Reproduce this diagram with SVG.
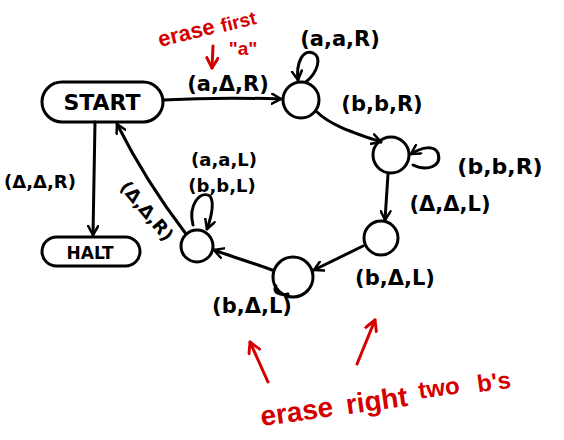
<svg xmlns="http://www.w3.org/2000/svg" width="564" height="440" viewBox="0 0 564 440">
<style>
.s{fill:none;stroke:#000;stroke-width:3;stroke-linecap:round;stroke-linejoin:round}
.t{font-family:"DejaVu Sans","Liberation Sans",sans-serif;font-weight:bold;fill:#000;text-anchor:middle}
.r{font-family:"Liberation Sans","DejaVu Sans",sans-serif;font-weight:bold;fill:#d40000;text-anchor:middle}
.rs{fill:none;stroke:#d40000;stroke-width:3;stroke-linecap:round;stroke-linejoin:round}
</style>
<defs>
<marker id="ah" viewBox="0 0 12 12" refX="10" refY="6" markerWidth="12" markerHeight="12" markerUnits="userSpaceOnUse" orient="auto">
<path d="M1,1 L10,6 L1,11" fill="none" stroke="#000" stroke-width="2.5" stroke-linecap="round" stroke-linejoin="round"/>
</marker>
<marker id="ahr" viewBox="0 0 12 12" refX="10" refY="6" markerWidth="14" markerHeight="14" markerUnits="userSpaceOnUse" orient="auto">
<path d="M1,1 L10,6 L1,11" fill="none" stroke="#d40000" stroke-width="2.5" stroke-linecap="round" stroke-linejoin="round"/>
</marker>
</defs>
<rect width="564" height="440" fill="#fff"/>
<g id="connectors">
<path class="s" d="M163,100 C200,98 250,98 281,99" marker-end="url(#ah)"/>
<path class="s" d="M306,82 C318,72 322,57 313,53 C302,49 296,64 298,80" marker-end="url(#ah)"/>
<path class="s" d="M317,112 C330,125 352,132 381,142" marker-end="url(#ah)"/>
<path class="s" d="M413,165 C428,172 442,166 438,153 C434,145 422,147 411,154" marker-end="url(#ah)"/>
<path class="s" d="M388,174 L385,220" marker-end="url(#ah)"/>
<path class="s" d="M363,246 L314,270" marker-end="url(#ah)"/>
<path class="s" d="M272,270 C250,262 236,258 214,250" marker-end="url(#ah)"/>
<path class="s" d="M193,225 C188,205 200,190 210,196 C214,202 212,215 207,229" marker-end="url(#ah)"/>
<path class="s" d="M186,234 C160,200 135,160 117,124" marker-end="url(#ah)"/>
<path class="s" d="M95,122 L93,235" marker-end="url(#ah)"/>
</g>
<g id="start">
<rect class="s" x="42" y="82" width="121" height="40" rx="20"/>
<text class="t" x="102" y="110" font-size="22">START</text>
</g>
<g id="halt">
<rect class="s" x="42" y="237" width="98" height="29" rx="14.5"/>
<text class="t" x="90" y="259" font-size="17">HALT</text>
</g>
<g id="q1"><circle class="s" cx="301" cy="100" r="18"/></g>
<g id="q2"><circle class="s" cx="391" cy="155" r="18"/></g>
<g id="q3"><circle class="s" cx="381" cy="238" r="17"/></g>
<g id="q4"><circle class="s" cx="293" cy="277" r="20"/><path class="s" d="M276,286 C272,292 280,296 288,294"/></g>
<g id="q5"><circle class="s" cx="197" cy="246" r="16"/></g>
<g id="labels">
<text class="t" x="228" y="91" font-size="21">(a,Δ,R)</text>
<text class="t" x="340" y="46" font-size="21">(a,a,R)</text>
<text class="t" x="382" y="111" font-size="21">(b,b,R)</text>
<text class="t" x="500" y="174" font-size="22">(b,b,R)</text>
<text class="t" x="450" y="211" font-size="21">(Δ,Δ,L)</text>
<text class="t" x="395" y="285" font-size="21">(b,Δ,L)</text>
<text class="t" x="252" y="313" font-size="21">(b,Δ,L)</text>
<text class="t" x="224" y="166" font-size="18">(a,a,L)</text>
<text class="t" x="222" y="192" font-size="18">(b,b,L)</text>
<text class="t" x="40" y="188" font-size="18">(Δ,Δ,R)</text>
<text class="t" x="0" y="0" font-size="18" transform="translate(142,215) rotate(50)">(Δ,Δ,R)</text>
</g>
<g id="notes">
<text class="r" x="0" y="0" font-size="22" transform="translate(188,40) rotate(-14)">erase</text>
<text class="r" x="0" y="0" font-size="19" transform="translate(240,28) rotate(-14)">first</text>
<text class="r" x="243" y="55" font-size="19">"a"</text>
<path class="rs" d="M213,46 L212,68" marker-end="url(#ahr)"/>
<path class="rs" d="M268,382 L250,342" marker-end="url(#ahr)"/>
<path class="rs" d="M357,364 L375,320" marker-end="url(#ahr)"/>
<text class="r" x="0" y="0" font-size="28" transform="translate(298,421) rotate(-8)">erase</text>
<text class="r" x="0" y="0" font-size="28" transform="translate(378,410) rotate(-8)">right</text>
<text class="r" x="0" y="0" font-size="24" transform="translate(440,396) rotate(-8)">two</text>
<text class="r" x="0" y="0" font-size="24" transform="translate(495,390) rotate(-8)">b's</text>
</g>
</svg>
